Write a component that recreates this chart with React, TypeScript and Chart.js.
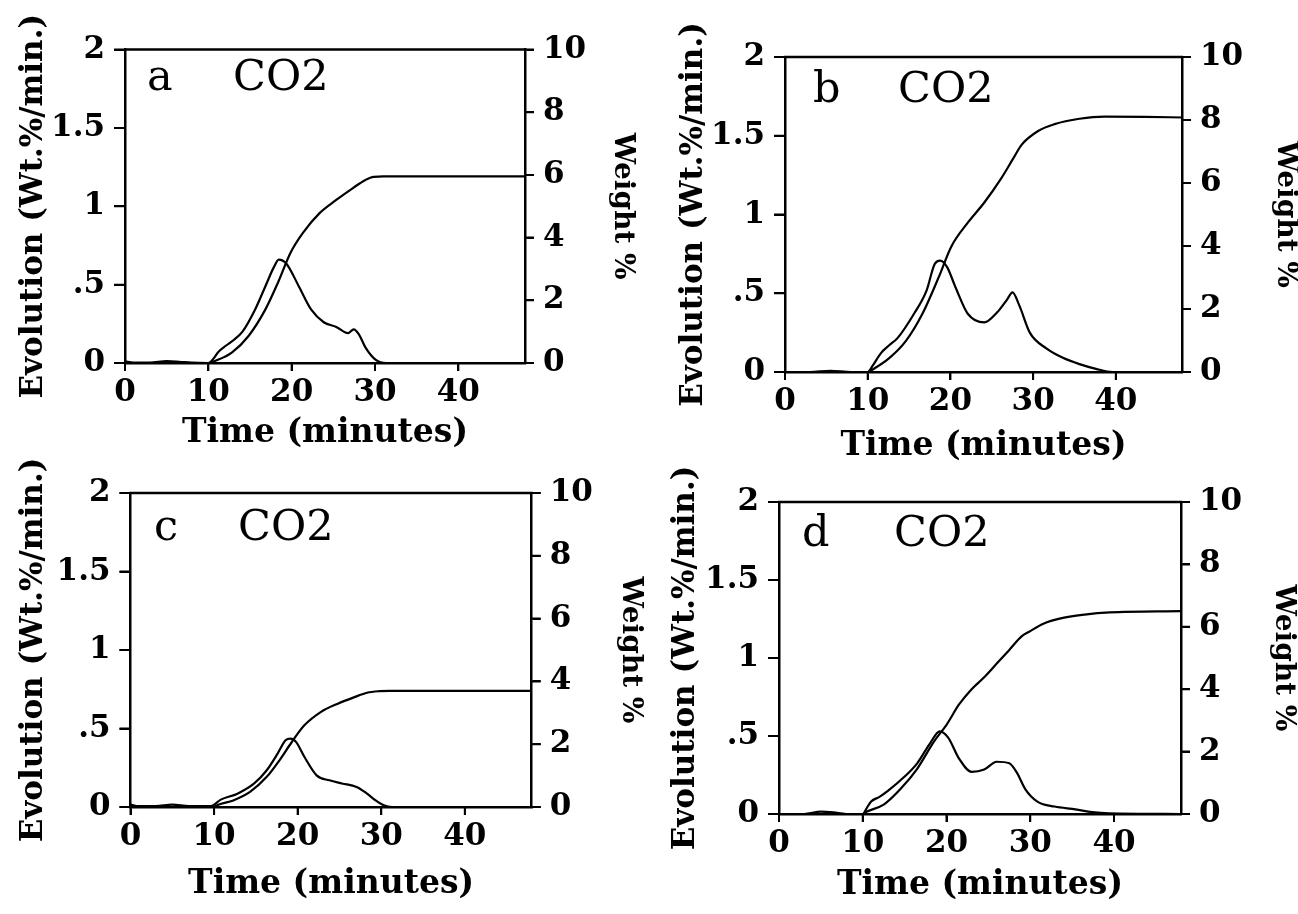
import React, { useEffect, useRef } from 'react';
import { Chart, registerables } from 'chart.js';

Chart.register(...registerables);

// ---- tick values / labels ----
const TIME_TICKS = [0, 10, 20, 30, 40];
const TIME_TICK_LABELS = ['0', '10', '20', '30', '40'];
const EVOLUTION_TICKS = [0, 0.5, 1, 1.5, 2];
const EVOLUTION_TICK_LABELS = ['0', '.5', '1', '1.5', '2'];
const WEIGHT_TICKS = [0, 2, 4, 6, 8, 10];
const WEIGHT_TICK_LABELS = ['0', '2', '4', '6', '8', '10'];

const X_TITLE = 'Time (minutes)';
const Y_TITLE = 'Evolution (Wt.%/min.)';
const Y2_TITLE = 'Weight %';
const GAS = 'CO2';
const PANEL_LETTERS = ['a', 'b', 'c', 'd'];

// ---- panel a ----
const rateTimeA = [0, 1, 3, 5, 6.5, 8, 10, 10.5, 11.2, 12.1, 13, 14.1, 15.6, 16.85, 17.85, 18.45, 19.35, 20.85, 22.35, 23.85, 25.35, 26.75, 27.45, 28.1, 28.85, 30.1, 31.35, 40, 48];
const rateA = [0.01, 0.003, 0.003, 0.012, 0.008, 0.002, 0, 0.02, 0.07, 0.11, 0.145, 0.2, 0.34, 0.49, 0.61, 0.66, 0.635, 0.49, 0.34, 0.26, 0.23, 0.19, 0.215, 0.18, 0.1, 0.02, 0, 0, 0];
const weightTimeA = [0, 10, 10.85, 12.85, 14.85, 16.85, 18.35, 19.85, 21.35, 23.35, 25.35, 27.35, 28.85, 29.85, 31, 48];
const weightA = [0, 0, 0.07, 0.34, 0.87, 1.71, 2.56, 3.51, 4.15, 4.78, 5.2, 5.58, 5.84, 5.94, 5.95, 5.95];

// ---- panel b ----
const rateTimeB = [0, 3, 5.5, 8, 10, 10.6, 11.6, 12.6, 13.6, 15.6, 17.1, 18.1, 18.75, 19.6, 20.6, 22.1, 24.1, 25.6, 26.85, 27.5, 28.35, 29.6, 31.6, 33.6, 35.6, 37.6, 39.6, 48];
const rateB = [0, 0, 0.008, 0, 0, 0.04, 0.12, 0.17, 0.215, 0.37, 0.515, 0.686, 0.707, 0.666, 0.54, 0.37, 0.315, 0.376, 0.46, 0.505, 0.42, 0.25, 0.15, 0.09, 0.05, 0.02, 0, 0];
const weightTimeB = [0, 10, 10.6, 12.6, 14.6, 16.6, 18.6, 20.1, 22.1, 24.1, 26.1, 27.6, 28.6, 30.6, 32.6, 35.6, 38.6, 43.6, 48];
const weightB = [0, 0, 0.08, 0.44, 0.98, 1.84, 3.02, 3.98, 4.74, 5.38, 6.13, 6.78, 7.21, 7.65, 7.87, 8.04, 8.11, 8.1, 8.08];

// ---- panel c ----
const rateTimeC = [0, 1, 3, 5, 7, 9.6, 10.8, 12.8, 14.8, 16.3, 17.6, 18.55, 19.15, 19.8, 20.8, 22.3, 23.8, 25.3, 27.05, 28.3, 29.3, 30.3, 31.3, 48];
const rateC = [0.015, 0.005, 0.005, 0.015, 0.005, 0.005, 0.047, 0.085, 0.15, 0.234, 0.34, 0.425, 0.436, 0.415, 0.32, 0.2, 0.17, 0.15, 0.128, 0.085, 0.043, 0.011, 0, 0];
const weightTimeC = [0, 10, 10.3, 12.3, 14.3, 16.3, 17.8, 19.3, 20.8, 22.8, 24.8, 26.8, 28.3, 29.8, 31, 48];
const weightC = [0, 0, 0.05, 0.21, 0.48, 0.96, 1.48, 2.07, 2.6, 3.03, 3.29, 3.5, 3.64, 3.69, 3.7, 3.7];

// ---- panel d ----
const rateTimeD = [0, 3, 5, 6.5, 8, 10, 10.5, 11, 12, 13, 15, 16.5, 18, 19.2, 20.2, 21.5, 23, 24.5, 26, 27.5, 28.4, 29.4, 30.9, 32.9, 35.4, 37.4, 39.4, 48];
const rateD = [0, 0, 0.015, 0.01, 0, 0, 0.04, 0.08, 0.11, 0.148, 0.24, 0.325, 0.45, 0.53, 0.49, 0.355, 0.27, 0.285, 0.335, 0.325, 0.265, 0.16, 0.078, 0.048, 0.03, 0.012, 0.004, 0];
const weightTimeD = [0, 10, 10.5, 12.5, 14.5, 16.5, 18.5, 20, 21.5, 23, 24.5, 26, 27.5, 29, 30, 31.5, 33.5, 36.5, 39.5, 48];
const weightD = [0, 0, 0.08, 0.3, 0.8, 1.45, 2.32, 2.86, 3.51, 4.0, 4.38, 4.82, 5.26, 5.7, 5.86, 6.09, 6.26, 6.39, 6.46, 6.5];

// ---- layout (page pixel positions) ----
const CW = 649;
const CH = 475;
const PANELS = [
  { letter: PANEL_LETTERS[0], ox: 0, oy: 0, L: 125, T: 49.5, R: 525, B: 363, yTitleX: 34, wTitleX: 622, xTitleY: 433, labelBase: 90, letterDx: 22, co2Dx: 108, rateT: rateTimeA, rate: rateA, wtT: weightTimeA, wt: weightA },
  { letter: PANEL_LETTERS[1], ox: 649, oy: 0, L: 785, T: 57, R: 1182, B: 372, yTitleX: 694, wTitleX: 1285, xTitleY: 446, labelBase: 102, letterDx: 28, co2Dx: 113, rateT: rateTimeB, rate: rateB, wtT: weightTimeB, wt: weightB },
  { letter: PANEL_LETTERS[2], ox: 0, oy: 439, L: 130.5, T: 493, R: 531.7, B: 807, yTitleX: 34, wTitleX: 630, xTitleY: 884.5, labelBase: 540, letterDx: 23.5, co2Dx: 107.5, rateT: rateTimeC, rate: rateC, wtT: weightTimeC, wt: weightC },
  { letter: PANEL_LETTERS[3], ox: 649, oy: 439, L: 779, T: 502, R: 1181, B: 814, yTitleX: 686, wTitleX: 1283, xTitleY: 885, labelBase: 546, letterDx: 23, co2Dx: 115, rateT: rateTimeD, rate: rateD, wtT: weightTimeD, wt: weightD },
];

const X_TICK_LEN = 8;
const Y_TICK_LEN = 11;
const Y2_TICK_LEN = 9;

const SERIF = '"DejaVu Serif", serif';
const TICK_FONT = { family: SERIF, size: 31, weight: 'bold', lineHeight: 1.2 };
const XTITLE_FONT = { family: SERIF, size: 33, weight: 'bold', lineHeight: 1.2 };
const YTITLE_FONT = { family: SERIF, size: 31, weight: 'bold', lineHeight: 1.2 };
const WTITLE_FONT = { family: SERIF, size: 28, weight: 'bold', lineHeight: 1.2 };

function toPoints(ts: number[], vs: number[]) {
  return ts.map((t, i) => ({ x: t, y: vs[i] }));
}

const framePlugin = {
  id: 'panelFrame',
  afterDraw(chart: any, _args: any, opts: any) {
    const { ctx, chartArea, scales } = chart;
    const { left, right, top, bottom } = chartArea;
    ctx.save();
    ctx.strokeStyle = '#000';
    ctx.lineCap = 'butt';
    // top frame line
    ctx.lineWidth = 2.5;
    ctx.beginPath();
    ctx.moveTo(left - 1, top);
    ctx.lineTo(right + 1, top);
    ctx.stroke();
    // outward tick marks, placed through the scales
    ctx.lineWidth = 2;
    ctx.beginPath();
    TIME_TICKS.forEach((v) => {
      const px = scales.x.getPixelForValue(v);
      ctx.moveTo(px, bottom);
      ctx.lineTo(px, bottom + X_TICK_LEN);
    });
    EVOLUTION_TICKS.forEach((v) => {
      const py = scales.y.getPixelForValue(v);
      ctx.moveTo(left - Y_TICK_LEN, py);
      ctx.lineTo(left, py);
    });
    WEIGHT_TICKS.forEach((v) => {
      const py = scales.y2.getPixelForValue(v);
      ctx.moveTo(right, py);
      ctx.lineTo(right + Y2_TICK_LEN, py);
    });
    ctx.stroke();
    // panel label
    ctx.fillStyle = '#000';
    ctx.textBaseline = 'alphabetic';
    ctx.textAlign = 'left';
    ctx.font = `43px ${SERIF}`;
    ctx.fillText(opts.letter, left + opts.letterDx, opts.baseline);
    ctx.fillText(GAS, left + opts.co2Dx, opts.baseline);
    ctx.restore();
  },
};

function Panel({ p }: { p: any }) {
  const ref = useRef<HTMLCanvasElement | null>(null);
  useEffect(() => {
    if (!ref.current) return;
    const gridBase = {
      display: true,
      drawOnChartArea: false,
      drawTicks: true,
      color: '#000',
      lineWidth: 2,
      tickColor: '#000',
      tickWidth: 2,
    };
    const border = { display: true, color: '#000', width: 2.5 };
    const chart = new Chart(ref.current, {
      type: 'line',
      data: {
        datasets: [
          {
            data: toPoints(p.rateT, p.rate),
            yAxisID: 'y',
            borderColor: '#000',
            borderWidth: 2.2,
            pointRadius: 0,
            fill: false,
            cubicInterpolationMode: 'monotone',
          },
          {
            data: toPoints(p.wtT, p.wt),
            yAxisID: 'y2',
            borderColor: '#000',
            borderWidth: 2.2,
            pointRadius: 0,
            fill: false,
            cubicInterpolationMode: 'monotone',
          },
        ],
      },
      options: {
        responsive: false,
        animation: false,
        events: [],
        layout: { padding: { top: p.T - p.oy, left: 0, right: 0, bottom: 0 } },
        plugins: {
          legend: { display: false },
          tooltip: { enabled: false },
          panelFrame: {
            letter: p.letter,
            letterDx: p.letterDx,
            co2Dx: p.co2Dx,
            baseline: p.labelBase - p.oy,
          },
        },
        scales: {
          x: {
            type: 'linear',
            position: 'bottom',
            min: 0,
            max: 48,
            afterBuildTicks: (s: any) => {
              s.ticks = TIME_TICKS.map((v) => ({ value: v }));
            },
            afterFit: (s: any) => {
              s.height = p.oy + CH - p.B;
            },
            ticks: {
              autoSkip: false,
              maxRotation: 0,
              minRotation: 0,
              padding: 3.4,
              color: '#000',
              font: TICK_FONT,
              callback: (_v: any, i: number) => TIME_TICK_LABELS[i],
            },
            grid: { ...gridBase, tickLength: X_TICK_LEN },
            border,
            title: {
              display: true,
              text: X_TITLE,
              color: '#000',
              font: XTITLE_FONT,
              padding: { top: 0, bottom: p.oy + CH - p.xTitleY - 19.8 },
            },
          },
          y: {
            type: 'linear',
            position: 'left',
            min: 0,
            max: 2,
            afterBuildTicks: (s: any) => {
              s.ticks = EVOLUTION_TICKS.map((v) => ({ value: v }));
            },
            afterFit: (s: any) => {
              s.width = p.L - p.ox;
            },
            ticks: {
              padding: 9,
              color: '#000',
              font: TICK_FONT,
              callback: (_v: any, i: number) => EVOLUTION_TICK_LABELS[i],
            },
            grid: { ...gridBase, tickLength: Y_TICK_LEN },
            border,
            title: {
              display: true,
              text: Y_TITLE,
              color: '#000',
              font: YTITLE_FONT,
              padding: { top: p.yTitleX - p.ox - 18.6, bottom: 0 },
            },
          },
          y2: {
            type: 'linear',
            position: 'right',
            min: 0,
            max: 10,
            afterBuildTicks: (s: any) => {
              s.ticks = WEIGHT_TICKS.map((v) => ({ value: v }));
            },
            afterFit: (s: any) => {
              s.width = p.ox + CW - p.R;
            },
            ticks: {
              padding: 9,
              color: '#000',
              font: TICK_FONT,
              callback: (_v: any, i: number) => WEIGHT_TICK_LABELS[i],
            },
            grid: { ...gridBase, tickLength: Y2_TICK_LEN },
            border,
            title: {
              display: true,
              text: Y2_TITLE,
              color: '#000',
              font: WTITLE_FONT,
              padding: { top: p.ox + CW - p.wTitleX - 16.8, bottom: 0 },
            },
          },
        },
      } as any,
      plugins: [framePlugin],
    });
    return () => chart.destroy();
  }, [p]);

  return (
    <canvas
      ref={ref}
      width={CW}
      height={CH}
      style={{ position: 'absolute', left: p.ox, top: p.oy, width: CW, height: CH }}
    />
  );
}

export default function App() {
  return (
    <div style={{ position: 'absolute', left: 0, top: 0, width: 1298, height: 914, background: '#fff', overflow: 'hidden' }}>
      {PANELS.map((p) => (
        <Panel key={p.letter} p={p} />
      ))}
    </div>
  );
}
